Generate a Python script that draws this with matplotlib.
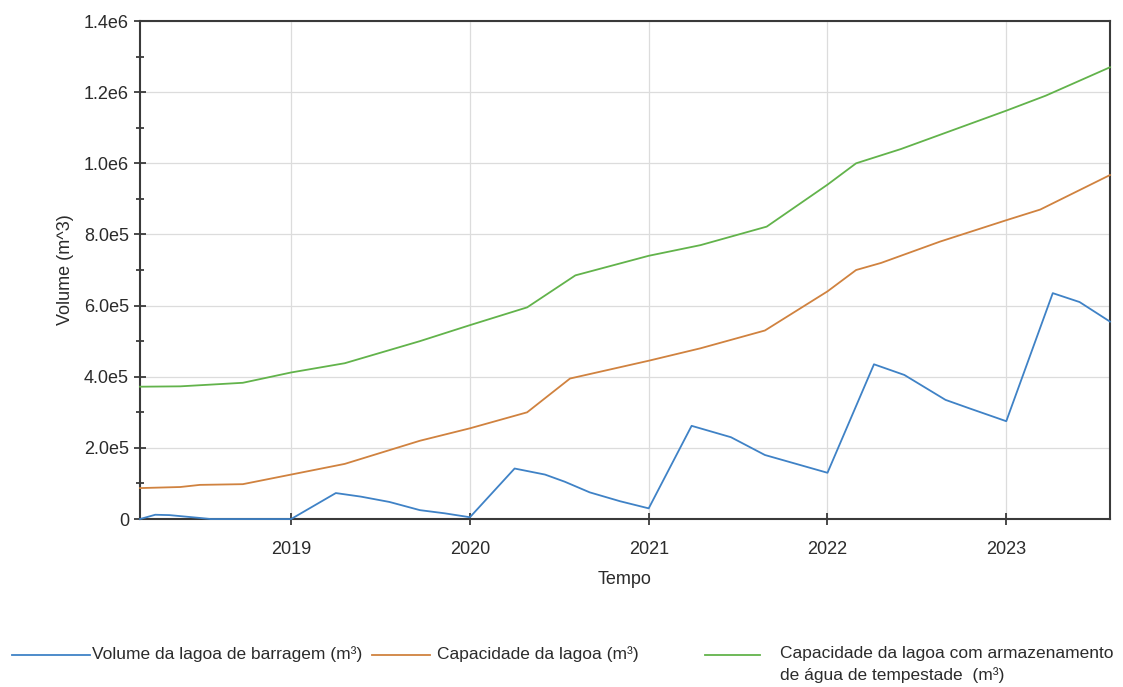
"""
Volume da lagoa de barragem vs capacidade da lagoa (2018-2023).
"""

import matplotlib
matplotlib.use("Agg")
import matplotlib.pyplot as plt
from matplotlib.lines import Line2D
from matplotlib.ticker import FixedLocator, MultipleLocator

plt.rcParams["font.family"] = ["Liberation Sans", "DejaVu Sans"]

# Time in fractional years, values in m^3.
vol_t = [2018.155, 2018.24, 2018.32, 2018.49, 2018.55, 2019.0, 2019.25, 2019.39,
         2019.55, 2019.72, 2019.86, 2020.0, 2020.25, 2020.42, 2020.53, 2020.67,
         2020.84, 2021.0, 2021.24, 2021.46, 2021.65, 2021.79, 2022.0, 2022.26,
         2022.43, 2022.66, 2022.80, 2023.0, 2023.26, 2023.41, 2023.58]
vol_v = [0, 12000, 11000, 3000, 0, 0, 73000, 63000,
         48000, 25000, 16000, 5000, 142000, 125000, 105000, 75000,
         50000, 30000, 262000, 230000, 180000, 160000, 130000, 435000,
         405000, 335000, 310000, 275000, 635000, 610000, 555000]

cap_t = [2018.155, 2018.38, 2018.49, 2018.73, 2019.0, 2019.30, 2019.72, 2020.0,
         2020.32, 2020.56, 2020.78, 2021.0, 2021.29, 2021.65, 2022.0, 2022.16,
         2022.30, 2022.63, 2023.0, 2023.19, 2023.58]
cap_v = [87000, 90000, 96000, 98000, 125000, 155000, 220000, 255000,
         300000, 395000, 420000, 445000, 480000, 530000, 640000, 700000,
         720000, 780000, 840000, 870000, 967000]

storm_t = [2018.155, 2018.38, 2018.73, 2019.0, 2019.30, 2019.72, 2020.0, 2020.32,
           2020.59, 2021.0, 2021.29, 2021.66, 2022.0, 2022.16, 2022.41, 2023.0,
           2023.22, 2023.58]
storm_v = [372000, 373000, 383000, 412000, 438000, 500000, 545000, 595000,
           685000, 740000, 770000, 822000, 940000, 1000000, 1040000, 1148000,
           1190000, 1270000]

year_ticks = [2019, 2020, 2021, 2022, 2023]
y_ticks = [0, 2e5, 4e5, 6e5, 8e5, 1.0e6, 1.2e6, 1.4e6]
y_labels = ["0", "2.0e5", "4.0e5", "6.0e5", "8.0e5", "1.0e6", "1.2e6", "1.4e6"]

legend_labels = [
    "Volume da lagoa de barragem (m³)",
    "Capacidade da lagoa (m³)",
    "Capacidade da lagoa com armazenamento\nde água de tempestade  (m³)",
]

BLUE = "#3f82c6"
ORANGE = "#d0823f"
GREEN = "#62b34b"
DARK = "#2b2b2b"

fig = plt.figure(figsize=(11.23, 6.87), dpi=100)
ax = fig.add_axes([0.1247, 0.2445, 0.8637, 0.7249])

ax.plot(storm_t, storm_v, color=GREEN, lw=1.3, clip_on=False, zorder=4)
ax.plot(cap_t, cap_v, color=ORANGE, lw=1.3, clip_on=False, zorder=4)
ax.plot(vol_t, vol_v, color=BLUE, lw=1.3, clip_on=False, zorder=4)

ax.set_xlim(2018.155, 2023.58)
ax.set_ylim(0, 1.4e6)

ax.xaxis.set_major_locator(FixedLocator(year_ticks))
ax.set_xticklabels([str(y) for y in year_ticks])
ax.yaxis.set_major_locator(FixedLocator(y_ticks))
ax.set_yticklabels(y_labels)
ax.yaxis.set_minor_locator(MultipleLocator(1e5))

ax.tick_params(axis="both", which="major", labelsize=13, colors=DARK,
               direction="inout", length=8, width=1.2)
ax.tick_params(axis="y", which="minor", direction="inout", length=6,
               width=1.2, color=DARK)
ax.tick_params(axis="x", pad=12)
ax.tick_params(axis="y", pad=4)

ax.grid(True, which="major", color="#dcdcdc", lw=0.9)
ax.set_axisbelow(True)

for side in ax.spines.values():
    side.set_color("#3a3a3a")
    side.set_linewidth(1.5)

ax.set_xlabel("Tempo", fontsize=13, color=DARK, labelpad=9)
ax.set_ylabel("Volume (m^3)", fontsize=13, color=DARK, labelpad=7)

# Legend row at the bottom, laid out by hand.
W, H = 1123, 687
entries = [
    (12, 90, 92, BLUE, legend_labels[0]),
    (372, 430, 437, ORANGE, legend_labels[1]),
    (705, 760, 780, GREEN, legend_labels[2]),
]
ly = 655
for x0, x1, xt, col, lab in entries:
    fig.add_artist(Line2D([x0 / W, x1 / W], [1 - ly / H, 1 - ly / H],
                          color=col, lw=1.3, transform=fig.transFigure))
    fig.text(xt / W, 1 - (ly - 9) / H, lab, fontsize=12.5,
             color=DARK, ha="left", va="top", linespacing=1.45)

fig.savefig("out.png", dpi=100, facecolor="white")
